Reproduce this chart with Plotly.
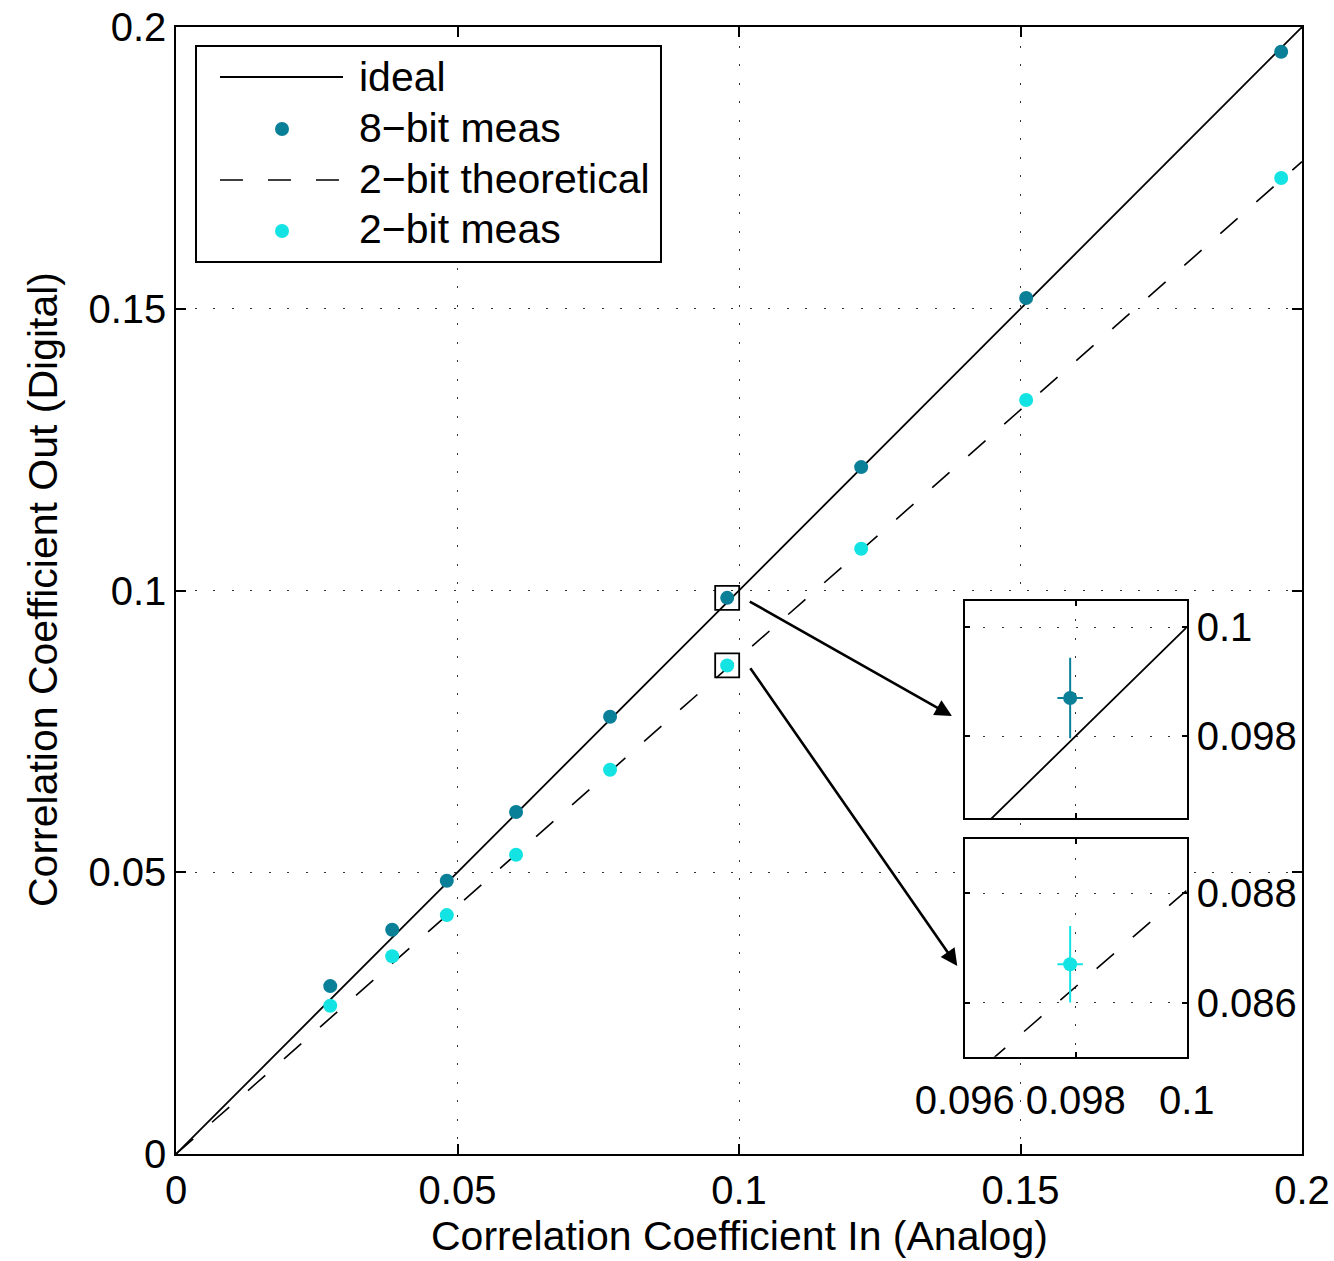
import plotly.graph_objects as go

# ---- data -------------------------------------------------------------
x_in = [0.0274, 0.0384, 0.0481, 0.0604, 0.0771, 0.0979, 0.1217, 0.1510, 0.1963]
y_8bit = [0.0298, 0.0398, 0.0485, 0.0607, 0.0776, 0.0987, 0.1219, 0.1519, 0.1956]
y_2bit = [0.0263, 0.0351, 0.0424, 0.0531, 0.0682, 0.0867, 0.1074, 0.1338, 0.1732]

ideal_x = [0.0, 0.2]
ideal_y = [0.0, 0.2]
theory_x = [0.0, 0.2]
theory_y = [0.0, 0.1761]

# magnified point near 0.1 with its error bars
zoom_x = [0.0979]
zoom_y8 = [0.0987]
zoom_y2 = [0.0867]
zoom_x_err = [0.00023]
zoom_y8_err = [0.00074]
zoom_y2_err = [0.0007]

main_ticks = [0, 0.05, 0.1, 0.15, 0.2]
main_ticktext = ["0", "0.05", "0.1", "0.15", "0.2"]
inset_xticks = [0.096, 0.098, 0.1]
inset_xticktext = ["0.096", "0.098", "0.1"]
top_yticks = [0.098, 0.1]
top_yticktext = ["0.098", "0.1"]
bot_yticks = [0.086, 0.088]
bot_yticktext = ["0.086", "0.088"]

legend_labels = ["ideal", "8\u2212bit meas", "2\u2212bit theoretical", "2\u2212bit meas"]

C8 = "#0a7f98"
C2 = "#14e3e3"
FONT = "Liberation Sans, Arial, Helvetica, sans-serif"
DASH = "23px,25px"
GRID_DASH = "2px,16.5px"

# ---- page geometry (pixels) ------------------------------------------
W, H = 1334, 1261
L, T, R, B = 176, 27, 32, 107
PW, PH = W - L - R, H - T - B


def px(x):
    return (x - L) / PW


def py(y):
    return (H - B - y) / PH


fig = go.Figure()

# main panel
fig.add_trace(go.Scatter(x=ideal_x, y=ideal_y, mode="lines",
                         line=dict(color="black", width=1.8), xaxis="x", yaxis="y"))
fig.add_trace(go.Scatter(x=theory_x, y=theory_y, mode="lines",
                         line=dict(color="black", width=1.6, dash=DASH), xaxis="x", yaxis="y"))
fig.add_trace(go.Scatter(x=x_in, y=y_8bit, mode="markers",
                         marker=dict(color=C8, size=14), xaxis="x", yaxis="y"))
fig.add_trace(go.Scatter(x=x_in, y=y_2bit, mode="markers",
                         marker=dict(color=C2, size=14), xaxis="x", yaxis="y"))
# boxes marking the magnified points
fig.add_trace(go.Scatter(x=zoom_x * 2, y=zoom_y8 + zoom_y2, mode="markers",
                         marker=dict(symbol="square-open", size=24, color="black",
                                     line=dict(color="black", width=1.8)),
                         xaxis="x", yaxis="y"))

# upper inset: 8-bit point
fig.add_trace(go.Scatter(x=ideal_x, y=ideal_y, mode="lines",
                         line=dict(color="black", width=1.8), xaxis="x2", yaxis="y2"))
fig.add_trace(go.Scatter(x=zoom_x, y=zoom_y8, mode="markers",
                         marker=dict(color=C8, size=14),
                         error_x=dict(type="data", array=zoom_x_err, color=C8, thickness=2, width=0),
                         error_y=dict(type="data", array=zoom_y8_err, color=C8, thickness=2, width=0),
                         xaxis="x2", yaxis="y2"))

# lower inset: 2-bit point
fig.add_trace(go.Scatter(x=theory_x, y=theory_y, mode="lines",
                         line=dict(color="black", width=1.6, dash=DASH), xaxis="x3", yaxis="y3"))
fig.add_trace(go.Scatter(x=zoom_x, y=zoom_y2, mode="markers",
                         marker=dict(color=C2, size=14),
                         error_x=dict(type="data", array=zoom_x_err, color=C2, thickness=2, width=0),
                         error_y=dict(type="data", array=zoom_y2_err, color=C2, thickness=2, width=0),
                         xaxis="x3", yaxis="y3"))

axis_common = dict(
    automargin=False,
    showline=True, linecolor="black", mirror="ticks",
    ticks="inside", tickcolor="black", tickwidth=1.5,
    showgrid=True, gridcolor="#333333", gridwidth=1.3, griddash=GRID_DASH,
    zeroline=False, tickfont=dict(family=FONT, size=40, color="black"),
)

top_dom = [py(818.3), py(600.7)]
bot_dom = [py(1056.7), py(839)]
ins_xdom = [px(964.7), px(1186.7)]
top_yrange = [0.096486, 0.10049]
bot_yrange = [0.08501, 0.08899]
ins_xrange = [0.096, 0.1]

fig.update_layout(
    template="none",
    width=W, height=H,
    margin=dict(l=L, r=R, t=T, b=B, autoexpand=False),
    paper_bgcolor="white", plot_bgcolor="white",
    showlegend=False,
    font=dict(family=FONT, color="black"),
    xaxis=dict(axis_common, domain=[0, 1], range=[0, 0.2], tickvals=main_ticks,
               ticktext=main_ticktext, ticklen=10, linewidth=1.5, anchor="y"),
    yaxis=dict(axis_common, domain=[0, 1], range=[0, 0.2], tickvals=main_ticks,
               ticktext=main_ticktext, ticklen=10, linewidth=1.5, anchor="x"),
    xaxis2=dict(axis_common, domain=ins_xdom, range=ins_xrange, tickvals=inset_xticks,
                showticklabels=False, ticklen=5, linewidth=2, anchor="y2"),
    yaxis2=dict(axis_common, domain=top_dom, range=top_yrange, tickvals=top_yticks,
                ticktext=top_yticktext, side="right", ticklen=5, linewidth=2, anchor="x2"),
    xaxis3=dict(axis_common, domain=ins_xdom, range=ins_xrange, tickvals=inset_xticks,
                ticktext=inset_xticktext, ticklen=5, linewidth=2, anchor="y3",
                ticklabelstandoff=7),
    yaxis3=dict(axis_common, domain=bot_dom, range=bot_yrange, tickvals=bot_yticks,
                ticktext=bot_yticktext, side="right", ticklen=5, linewidth=2, anchor="x3"),
)

shapes = [
    # opaque inset backgrounds
    dict(type="rect", xref="x2", yref="y2", x0=ins_xrange[0], x1=ins_xrange[1],
         y0=top_yrange[0], y1=top_yrange[1], fillcolor="white", line=dict(width=0), layer="below"),
    dict(type="rect", xref="x3", yref="y3", x0=ins_xrange[0], x1=ins_xrange[1],
         y0=bot_yrange[0], y1=bot_yrange[1], fillcolor="white", line=dict(width=0), layer="below"),
    # legend frame
    dict(type="rect", xref="paper", yref="paper", x0=px(196), x1=px(661), y0=py(262), y1=py(46),
         fillcolor="white", line=dict(color="black", width=2), layer="above"),
    # legend samples
    dict(type="line", xref="paper", yref="paper", x0=px(220), x1=px(343), y0=py(77), y1=py(77),
         line=dict(color="black", width=1.8), layer="above"),
    dict(type="line", xref="paper", yref="paper", x0=px(220), x1=px(343), y0=py(180), y1=py(180),
         line=dict(color="black", width=1.6, dash=DASH), layer="above"),
]
for row_y, col in [(129, C8), (231, C2)]:
    shapes.append(dict(type="circle", xref="paper", yref="paper",
                       xsizemode="pixel", ysizemode="pixel",
                       xanchor=px(282), yanchor=py(row_y), x0=-7, x1=7, y0=-7, y1=7,
                       fillcolor=col, line=dict(width=0), layer="above"))
fig.update_layout(shapes=shapes)

annotations = []
for label, row_y in zip(legend_labels, [77, 128, 179, 229]):
    annotations.append(dict(text=label, xref="paper", yref="paper", x=px(357), y=py(row_y),
                            xanchor="left", yanchor="middle", showarrow=False,
                            font=dict(family=FONT, size=41, color="black")))

# axis titles
annotations.append(dict(text="Correlation Coefficient In (Analog)", xref="paper", yref="paper",
                        x=px(739), y=py(1236), xanchor="center", yanchor="middle", showarrow=False,
                        font=dict(family=FONT, size=41, color="black")))
annotations.append(dict(text="Correlation Coefficient Out (Digital)", xref="paper", yref="paper",
                        x=px(43), y=py(590), xanchor="center", yanchor="middle", showarrow=False,
                        textangle=-90, font=dict(family=FONT, size=41, color="black")))

# arrows pointing to the insets
for tip, tail in [((0.13783, 0.07773), (0.10165, 0.09819)),
                  ((0.13877, 0.03336), (0.10183, 0.08648))]:
    annotations.append(dict(text="", xref="x", yref="y", axref="x", ayref="y",
                            x=tip[0], y=tip[1], ax=tail[0], ay=tail[1],
                            showarrow=True, arrowhead=2, arrowsize=1.3, arrowwidth=2.6,
                            arrowcolor="black", standoff=0))
fig.update_layout(annotations=annotations)

fig.write_html("out.html")
